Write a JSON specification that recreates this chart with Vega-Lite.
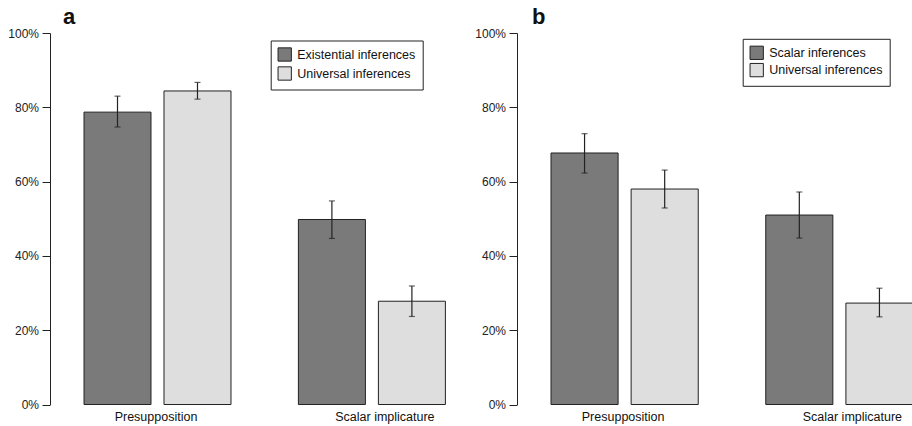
{
  "$schema": "https://vega.github.io/schema/vega-lite/v6.json",
  "padding": {"left": 7, "top": 5, "right": 0, "bottom": 0},
  "spacing": 28,
  "data": {"values": [
    {"panel": "a", "condition": "Presupposition", "type": "Existential inferences", "value": 78.7, "lo": 74.7, "hi": 83.0},
    {"panel": "a", "condition": "Presupposition", "type": "Universal inferences", "value": 84.4, "lo": 82.2, "hi": 86.7},
    {"panel": "a", "condition": "Scalar implicature", "type": "Existential inferences", "value": 49.8, "lo": 44.7, "hi": 54.8},
    {"panel": "a", "condition": "Scalar implicature", "type": "Universal inferences", "value": 27.8, "lo": 23.7, "hi": 31.9},
    {"panel": "b", "condition": "Presupposition", "type": "Scalar inferences", "value": 67.7, "lo": 62.3, "hi": 72.9},
    {"panel": "b", "condition": "Presupposition", "type": "Universal inferences", "value": 58.0, "lo": 52.9, "hi": 63.1},
    {"panel": "b", "condition": "Scalar implicature", "type": "Scalar inferences", "value": 51.0, "lo": 44.8, "hi": 57.2},
    {"panel": "b", "condition": "Scalar implicature", "type": "Universal inferences", "value": 27.3, "lo": 23.6, "hi": 31.3}
  ]},
  "resolve": {"scale": {"x": "independent", "y": "independent", "color": "independent", "xOffset": "independent"}, "legend": {"color": "independent"}},
  "hconcat": [
    {
      "width": 361.4, "height": 371.5,
      "title": {"text": "a", "anchor": "start", "frame": "group", "dx": -21, "offset": -1.5, "fontSize": 22, "fontWeight": "bold", "font": "Liberation Sans", "color": "#111"},
      "transform": [{"filter": "datum.panel == 'a'"}],
      "encoding": {
        "x": {"field": "condition", "type": "nominal", "sort": ["Presupposition", "Scalar implicature"], "scale": {"paddingInner": 0.3144, "paddingOuter": 0},
          "axis": {"title": null, "domain": false, "ticks": false, "labelAngle": 0, "labelFontSize": 12.5, "labelFont": "Liberation Sans", "labelColor": "#111", "labelPadding": 6,
            "labelOffset": {"condition": {"test": "datum.value == 'Scalar implicature'", "value": 13}, "value": -1.5}}},
        "xOffset": {"field": "type", "type": "nominal", "sort": ["Existential inferences", "Universal inferences"], "scale": {"paddingInner": 0.1625, "paddingOuter": 0}}
      },
      "layer": [
        {"mark": {"type": "bar", "stroke": "#222", "strokeWidth": 1},
         "encoding": {
           "y": {"field": "value", "type": "quantitative", "scale": {"domain": [0, 100], "nice": false},
             "axis": {"title": null, "values": [0, 20, 40, 60, 80, 100], "labelExpr": "datum.value + '%'", "offset": 34, "tickSize": 8, "labelPadding": 3.5, "labelFontSize": 12, "labelFont": "Liberation Sans", "labelColor": "#222", "domainColor": "#222", "tickColor": "#222", "grid": false, "labelFlush": false}},
           "color": {"field": "type", "type": "nominal", "scale": {"domain": ["Existential inferences", "Universal inferences"], "range": ["#7a7a7a", "#dedede"]},
             "legend": {"orient": "none", "legendX": 186.7, "legendY": 7.5, "title": null, "strokeColor": "#222", "fillColor": "white", "padding": 6.5, "symbolType": "square", "symbolSize": 177, "symbolStrokeColor": "#222", "symbolStrokeWidth": 1, "symbolOpacity": 1, "labelFontSize": 12.5, "labelFont": "Liberation Sans", "labelColor": "#111", "rowPadding": 0, "labelOffset": 5}}
         }},
        {"mark": {"type": "rule", "color": "#222", "strokeWidth": 1.2},
         "encoding": {"y": {"field": "lo", "type": "quantitative", "title": null}, "y2": {"field": "hi"}}},
        {"mark": {"type": "tick", "color": "#222", "size": 6, "thickness": 1.2},
         "encoding": {"y": {"field": "lo", "type": "quantitative", "title": null}}},
        {"mark": {"type": "tick", "color": "#222", "size": 6, "thickness": 1.2},
         "encoding": {"y": {"field": "hi", "type": "quantitative", "title": null}}}
      ]
    },
    {
      "width": 362, "height": 371.5,
      "title": {"text": "b", "anchor": "start", "frame": "group", "dx": -19, "offset": -1.5, "fontSize": 22, "fontWeight": "bold", "font": "Liberation Sans", "color": "#111"},
      "transform": [{"filter": "datum.panel == 'b'"}],
      "encoding": {
        "x": {"field": "condition", "type": "nominal", "sort": ["Presupposition", "Scalar implicature"], "scale": {"paddingInner": 0.3144, "paddingOuter": 0},
          "axis": {"title": null, "domain": false, "ticks": false, "labelAngle": 0, "labelFontSize": 12.5, "labelFont": "Liberation Sans", "labelColor": "#111", "labelPadding": 6,
            "labelOffset": {"condition": {"test": "datum.value == 'Scalar implicature'", "value": 13}, "value": -1.5}}},
        "xOffset": {"field": "type", "type": "nominal", "sort": ["Scalar inferences", "Universal inferences"], "scale": {"paddingInner": 0.1625, "paddingOuter": 0}}
      },
      "layer": [
        {"mark": {"type": "bar", "stroke": "#222", "strokeWidth": 1},
         "encoding": {
           "y": {"field": "value", "type": "quantitative", "scale": {"domain": [0, 100], "nice": false},
             "axis": {"title": null, "values": [0, 20, 40, 60, 80, 100], "labelExpr": "datum.value + '%'", "offset": 34, "tickSize": 8, "labelPadding": 3.5, "labelFontSize": 12, "labelFont": "Liberation Sans", "labelColor": "#222", "domainColor": "#222", "tickColor": "#222", "grid": false, "labelFlush": false}},
           "color": {"field": "type", "type": "nominal", "scale": {"domain": ["Scalar inferences", "Universal inferences"], "range": ["#7a7a7a", "#dedede"]},
             "legend": {"orient": "none", "legendX": 191.7, "legendY": 5.8, "title": null, "strokeColor": "#222", "fillColor": "white", "padding": 6.5, "symbolType": "square", "symbolSize": 177, "symbolStrokeColor": "#222", "symbolStrokeWidth": 1, "symbolOpacity": 1, "labelFontSize": 12.5, "labelFont": "Liberation Sans", "labelColor": "#111", "rowPadding": -1.7, "labelOffset": 5}}
         }},
        {"mark": {"type": "rule", "color": "#222", "strokeWidth": 1.2},
         "encoding": {"y": {"field": "lo", "type": "quantitative", "title": null}, "y2": {"field": "hi"}}},
        {"mark": {"type": "tick", "color": "#222", "size": 6, "thickness": 1.2},
         "encoding": {"y": {"field": "lo", "type": "quantitative", "title": null}}},
        {"mark": {"type": "tick", "color": "#222", "size": 6, "thickness": 1.2},
         "encoding": {"y": {"field": "hi", "type": "quantitative", "title": null}}}
      ]
    }
  ],
  "config": {"view": {"stroke": null}, "font": "Liberation Sans"}
}
